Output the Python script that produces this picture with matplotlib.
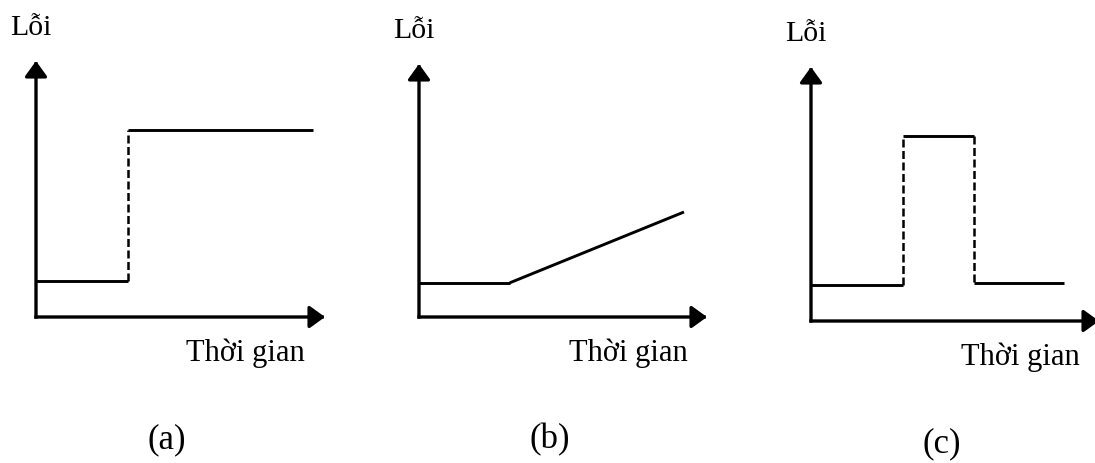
import matplotlib.pyplot as plt

# panel data (time in arbitrary units, error in arbitrary units; axis runs 0..10)
a_time = [0, 3.2, 3.2, 9.6]
a_err = [1.4, 1.4, 7.3, 7.3]

b_time = [0, 3.15, 9.2]
b_err = [1.35, 1.35, 4.15]

c_time = [0, 3.2, 3.2, 5.65, 5.65, 8.8]
c_err = [1.4, 1.4, 7.3, 7.3, 1.5, 1.5]

panel_tags = ['(a)', '(b)', '(c)']
y_label = 'Lỗi'
x_label = 'Thời gian'

plt.rcParams['font.family'] = ['Liberation Serif', 'DejaVu Serif']

W, H = 1095, 464
fig = plt.figure(figsize=(W / 100, H / 100), dpi=100)

# axes boxes in pixels: origin x, origin y (from top), x-arrow length, y-arrow length
boxes = [(36, 318, 289, 256), (419, 318, 288, 253), (811, 322, 288, 254)]
series = [(a_time, a_err), (b_time, b_err), (c_time, c_err)]

px = 72 / 100  # pixels -> points

for (ox, oy, w, h), (t, e), tag in zip(boxes, series, panel_tags):
    ax = fig.add_axes([ox / W, (H - oy) / H, w / W, h / H])
    ax.set_xlim(0, 10)
    ax.set_ylim(0, 10)
    ax.axis('off')

    # axes with arrowheads
    arrow = dict(arrowstyle='-|>,head_length=0.94,head_width=0.68', mutation_scale=10,
                 lw=2.4, color='black', shrinkA=0, shrinkB=0, capstyle='projecting')
    ax.annotate('', xy=(1, 0), xytext=(0, 0), xycoords='axes fraction',
                arrowprops=arrow, annotation_clip=False)
    ax.annotate('', xy=(0, 1), xytext=(0, 0), xycoords='axes fraction',
                arrowprops=arrow, annotation_clip=False)

    # curve: vertical jumps dashed, the rest solid
    for i in range(len(t) - 1):
        xs, ys = t[i:i + 2], e[i:i + 2]
        if xs[0] == xs[1]:
            ax.plot(xs, ys, color='black', lw=1.8, linestyle=(0, (3.2, 1.4)),
                    clip_on=False)
        else:
            ax.plot(xs, ys, color='black', lw=2.1, solid_capstyle='butt',
                    clip_on=False)

    ax.annotate(y_label, xy=(0, 1), xycoords='axes fraction',
                xytext=(-26 * px, 27 * px), textcoords='offset points',
                ha='left', va='baseline', fontsize=21.5)
    ax.annotate(x_label, xy=(0, 0), xycoords='axes fraction',
                xytext=(150 * px, -43 * px), textcoords='offset points',
                ha='left', va='baseline', fontsize=22)
    ax.annotate(tag, xy=(0, 0), xycoords='axes fraction',
                xytext=(131 * px, -122 * px), textcoords='offset points',
                ha='center', va='center', fontsize=25)

fig.savefig('out.png', dpi=100, facecolor='white')
